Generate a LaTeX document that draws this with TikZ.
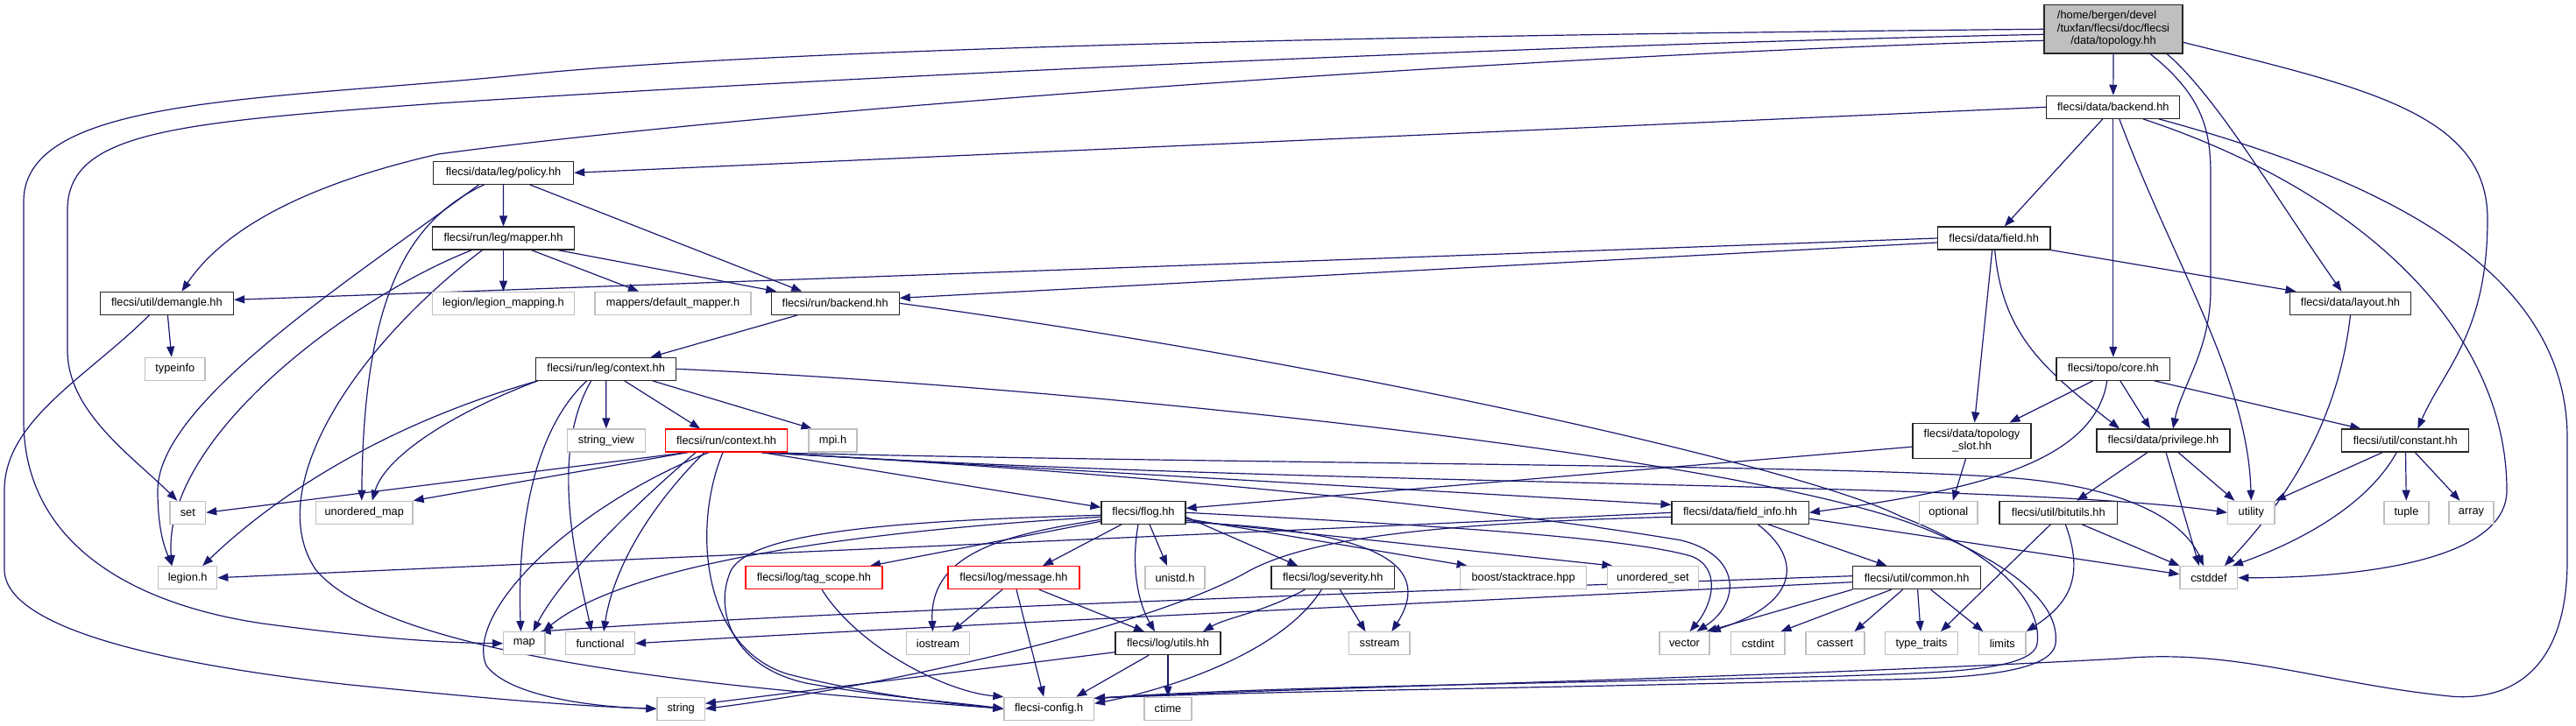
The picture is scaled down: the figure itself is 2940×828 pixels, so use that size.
\documentclass[tikz,border=0pt]{standalone}
\usepackage{fontspec}
\setmainfont{Liberation Sans}
\usetikzlibrary{arrows.meta,backgrounds}
\definecolor{edgec}{HTML}{191970}
\definecolor{greyb}{HTML}{BFBFBF}
\newcommand\gfs{\fontsize{12.8}{14.5}\selectfont}
\begin{document}
\begin{tikzpicture}[x=1pt,y=-1pt,
  nd/.style={rectangle, fill=white, inner sep=0pt, minimum height=26pt, font=\gfs, text=black},
  nb/.style={nd, draw=black!85, line width=1.1pt},
  ng/.style={nd, draw=greyb, line width=1.3pt},
  nr/.style={nd, draw=red, line width=1.1pt},
  dep/.style={draw=edgec, line width=1.2pt, -{Triangle[length=12pt,width=9pt]}}]
\useasboundingbox (0,0) rectangle (2940,828);
% ---------------- nodes
\node[nb, fill=greyb, minimum width=158pt, minimum height=55.3pt] (top) at (2412,33.3)
  {\begin{tabular}{@{}l@{}}/home/bergen/devel\\/tuxfan/flecsi/doc/flecsi\\\multicolumn{1}{@{}c@{}}{/data/topology.hh}\end{tabular}};
\node[nb, minimum width=152pt] (dbackend) at (2411.8,122.3) {flecsi/data/backend.hh};
\node[nb, minimum width=160pt] (policy) at (574.6,197.3) {flecsi/data/leg/policy.hh};
\node[nb, minimum width=162pt] (mapper) at (574.5,272) {flecsi/run/leg/mapper.hh};
\node[nb, minimum width=128.6pt] (field) at (2275.7,272) {flecsi/data/field.hh};
\node[nb, minimum width=152.4pt] (demangle) at (190.4,346.3) {flecsi/util/demangle.hh};
\node[ng, minimum width=162pt] (legmap) at (574.5,346.3) {legion/legion\_mapping.h};
\node[ng, minimum width=178pt] (defmap) at (768,346.3) {mappers/default\_mapper.h};
\node[nb, minimum width=146pt] (rbackend) at (953.2,346.3) {flecsi/run/backend.hh};
\node[nb, minimum width=137.7pt] (layout) at (2682.5,346.3) {flecsi/data/layout.hh};
\node[ng, minimum width=68.4pt] (typeinfo) at (199.8,421.3) {typeinfo};
\node[nb, minimum width=160pt] (legctx) at (691.7,421.3) {flecsi/run/leg/context.hh};
\node[nb, minimum width=129.6pt] (core) at (2411.8,421.3) {flecsi/topo/core.hh};
\node[ng, minimum width=88.7pt] (strview) at (691.9,503) {string\_view};
\node[nr, minimum width=139.2pt] (runctx) at (829.1,503) {flecsi/run/context.hh};
\node[ng, minimum width=55pt] (mpih) at (950.5,503) {mpi.h};
\node[nb, minimum width=135pt, minimum height=40.3pt, align=center] (topslot) at (2250.5,503.2) {flecsi/data/topology\\\_slot.hh};
\node[nb, minimum width=152pt] (privilege) at (2469,503) {flecsi/data/privilege.hh};
\node[nb, minimum width=145.2pt] (constant) at (2745.3,503) {flecsi/util/constant.hh};
\node[ng, minimum width=40.5pt] (set) at (214.3,585.3) {set};
\node[ng, minimum width=110.5pt] (umap) at (415.8,585.3) {unordered\_map};
\node[nb, minimum width=96pt] (flog) at (1305,585.3) {flecsi/flog.hh};
\node[nb, minimum width=156.4pt] (fieldinfo) at (1986.2,585.3) {flecsi/data/field\_info.hh};
\node[ng, minimum width=66.5pt] (optional) at (2223.8,585.3) {optional};
\node[nb, minimum width=134.6pt] (bitutils) at (2349.3,585.3) {flecsi/util/bitutils.hh};
\node[ng, minimum width=53.5pt] (utility) at (2569.3,585.3) {utility};
\node[ng, minimum width=51pt] (tuple) at (2746.5,585.3) {tuple};
\node[ng, minimum width=51pt] (array) at (2820.5,585.3) {array};
\node[ng, minimum width=67pt] (legionh) at (214.2,659.7) {legion.h};
\node[nr, minimum width=156pt] (tagscope) at (929,659.7) {flecsi/log/tag\_scope.hh};
\node[nr, minimum width=150pt] (message) at (1157,659.7) {flecsi/log/message.hh};
\node[ng, minimum width=68pt] (unistd) at (1341,659.7) {unistd.h};
\node[nb, minimum width=140.6pt] (severity) at (1521.3,659.7) {flecsi/log/severity.hh};
\node[ng, minimum width=144pt] (boost) at (1738.6,659.7) {boost/stacktrace.hpp};
\node[ng, minimum width=103.8pt] (uset) at (1886.5,659.7) {unordered\_set};
\node[nb, minimum width=146.2pt] (common) at (2187.6,659.7) {flecsi/util/common.hh};
\node[ng, minimum width=65.7pt] (cstddef) at (2520.9,659.7) {cstddef};
\node[ng, minimum width=47.2pt] (map) at (598.4,734.7) {map};
\node[ng, minimum width=78.8pt] (functional) at (685,734.7) {functional};
\node[ng, minimum width=71.7pt] (iostream) at (1070.5,734.7) {iostream};
\node[nb, minimum width=120pt] (utils) at (1333,734.7) {flecsi/log/utils.hh};
\node[ng, minimum width=69.3pt] (sstream) at (1574.4,734.7) {sstream};
\node[ng, minimum width=57pt] (vector) at (1922.5,734.7) {vector};
\node[ng, minimum width=61.3pt] (cstdint) at (2006.4,734.7) {cstdint};
\node[ng, minimum width=67pt] (cassert) at (2094.5,734.7) {cassert};
\node[ng, minimum width=83.1pt] (typetraits) at (2193,734.7) {type\_traits};
\node[ng, minimum width=53.4pt] (limits) at (2285.3,734.7) {limits};
\node[ng, minimum width=54.3pt] (string) at (777.2,809.3) {string};
\node[ng, minimum width=102.4pt] (config) at (1197.2,809.3) {flecsi-config.h};
\node[ng, minimum width=54pt] (ctime) at (1333,809.3) {ctime};
% ---------------- edges
\begin{scope}[on background layer]
\fill[white] (0,0) rectangle (2940,828);
% top
\draw[dep] (top) -- (dbackend);
\draw[dep] (top.west) .. controls (1600,40) and (900,55) .. (600,85) .. controls (300,115) and (27,110) .. (27,230) -- (27,480) .. controls (27,620) and (150,690) .. (300,712) .. controls (420,728) and (500,734) .. (map.west);
\draw[dep] ([yshift=-6]top.west) .. controls (1800,50) and (1000,85) .. (500,118) .. controls (200,140) and (77,150) .. (77,240) -- (77,400) .. controls (77,470) and (150,520) .. ([xshift=-12]set.north);
\draw[dep] ([yshift=-13]top.west) .. controls (1800,60) and (900,122) .. (500,176) .. controls (330,215) and (250,270) .. ([xshift=17]demangle.north);
\draw[dep] ([xshift=42]top.south) .. controls (2515,110) and (2523,150) .. (2523,200) -- (2523,330) .. controls (2523,400) and (2490,440) .. ([xshift=11]privilege.north);
\draw[dep] ([xshift=61]top.south) .. controls (2530,110) and (2600,230) .. ([xshift=-10]layout.north);
\draw[dep] ([yshift=-15]top.east) .. controls (2700,100) and (2839,130) .. (2839,250) .. controls (2839,380) and (2790,420) .. ([xshift=14]constant.north);
% data/backend
\draw[dep] (dbackend.west) -- (policy.east);
\draw[dep] ([xshift=-12]dbackend.south) -- ([xshift=12]field.north);
\draw[dep] (dbackend) -- (core);
\draw[dep] ([xshift=7]dbackend.south) .. controls (2480,300) and (2565,430) .. (utility.north);
\draw[dep] ([xshift=34]dbackend.south) .. controls (2700,220) and (2861,380) .. (2861,560) .. controls (2861,650) and (2650,660) .. (cstddef.east);
\draw[dep] ([xshift=52]dbackend.south) .. controls (2700,200) and (2930,300) .. (2930,500) -- (2930,640) .. controls (2930,780) and (2850,800) .. (2796,795) .. controls (2650,780) and (2550,740) .. (2420,752) .. controls (2000,775) and (1450,786) .. ([yshift=12]config.east);
% policy
\draw[dep] (policy) -- (mapper);
\draw[dep] ([xshift=30]policy.south) -- ([xshift=-38]rbackend.north);
\draw[dep] ([xshift=-28]policy.south) .. controls (400,320) and (180,460) .. (180,560) .. controls (180,610) and (190,630) .. ([xshift=-18]legionh.north);
\draw[dep] ([xshift=-22]policy.south) .. controls (470,250) and (415,330) .. ([xshift=-3]umap.north);
% mapper
\draw[dep] (mapper) -- (legmap);
\draw[dep] ([xshift=32]mapper.south) -- ([xshift=-39]defmap.north);
\draw[dep] ([xshift=62]mapper.south) -- ([xshift=-67]rbackend.north);
\draw[dep] ([xshift=-36]mapper.south) .. controls (400,340) and (185,500) .. ([xshift=-18]legionh.north);
\draw[dep] ([xshift=-24]mapper.south) .. controls (400,400) and (300,560) .. (360,650) .. controls (450,760) and (900,790) .. (config.west);
% run/backend
\draw[dep] ([xshift=-43]rbackend.south) -- ([xshift=51]legctx.north);
\draw[dep] (rbackend.east) .. controls (1500,410) and (2050,530) .. (2170,590) .. controls (2300,640) and (2330,700) .. (2325,735) .. controls (2320,768) and (2200,768) .. (2100,772) .. controls (1700,782) and (1450,784) .. ([yshift=12]config.east);
% run/leg/context
\draw[dep] ([xshift=21]legctx.south) -- ([xshift=-30]runctx.north);
\draw[dep] ([xshift=53]legctx.south) -- ([xshift=-24]mpih.north);
\draw[dep] (legctx) -- (strview);
\draw[dep] ([xshift=-22]legctx.south) .. controls (610,490) and (590,600) .. ([xshift=-4]map.north);
\draw[dep] ([xshift=-17]legctx.south) .. controls (625,520) and (660,650) .. ([xshift=-10]functional.north);
\draw[dep] ([xshift=-78]legctx.south) .. controls (420,490) and (300,580) .. ([xshift=17]legionh.north);
\draw[dep] ([xshift=-78]legctx.south) .. controls (520,470) and (440,520) .. ([xshift=9]umap.north);
\draw[dep] (legctx.east) .. controls (1200,440) and (2000,520) .. (2200,605) .. controls (2320,655) and (2350,700) .. (2346,735) .. controls (2340,776) and (2200,775) .. (2100,777) .. controls (1700,787) and (1450,789) .. ([yshift=12]config.east);
% run/context
\draw[dep] ([xshift=-44]runctx.south) -- (set.east);
\draw[dep] ([xshift=-44]runctx.south) -- (umap.north east);
\draw[dep] ([xshift=-35]runctx.south) .. controls (720,580) and (640,660) .. ([xshift=10]map.north);
\draw[dep] ([xshift=-25]runctx.south) .. controls (740,580) and (700,650) .. ([xshift=4]functional.north);
\draw[dep] ([xshift=-20]runctx.south) .. controls (650,580) and (530,700) .. (555,760) .. controls (585,800) and (700,808) .. (string.west);
\draw[dep] ([xshift=-4]runctx.south) .. controls (790,600) and (800,740) .. (900,770) .. controls (1000,795) and (1100,805) .. (config.west);
\draw[dep] ([xshift=40]runctx.south) -- ([yshift=6]flog.west);
\draw[dep] ([xshift=40]runctx.south) -- ([yshift=9]fieldinfo.west);
\draw[dep] ([xshift=40]runctx.south) .. controls (1400,530) and (2100,530) .. (2300,546) .. controls (2440,558) and (2495,600) .. ([xshift=-6]cstddef.north);
\draw[dep] ([xshift=40]runctx.south) .. controls (1500,556) and (2300,550) .. (utility.west);
\draw[dep] ([xshift=40]runctx.south) .. controls (1300,540) and (1700,580) .. (1919,617) .. controls (1990,635) and (1985,690) .. ([xshift=14]vector.north);
% flog
\draw[dep] ([yshift=-10]flog.west) -- ([xshift=64]tagscope.north);
\draw[dep] ([xshift=-25]flog.south) -- ([xshift=33]message.north);
\draw[dep] ([xshift=7]flog.south) -- ([xshift=-9]unistd.north);
\draw[dep] ([yshift=-8]flog.west) .. controls (1150,610) and (1060,630) .. ([xshift=-6]iostream.north);
\draw[dep] ([xshift=-6]flog.south) .. controls (1290,650) and (1300,690) .. ([xshift=-15]utils.north);
\draw[dep] ([yshift=-3]flog.west) .. controls (1000,595) and (860,610) .. (835,650) .. controls (815,690) and (830,760) .. (920,780) .. controls (1000,795) and (1100,803) .. (config.west);
\draw[dep] ([yshift=-5]flog.west) .. controls (1000,605) and (720,640) .. ([xshift=-3]map.north east);
\draw[dep] ([yshift=-5]flog.east) -- ([xshift=-40]severity.north);
\draw[dep] ([yshift=-7]flog.east) -- ([xshift=-64]boost.north);
\draw[dep] ([yshift=-9]flog.east) -- ([xshift=-46]uset.north);
\draw[dep] ([yshift=-11]flog.east) .. controls (1560,605) and (1640,640) .. ([xshift=14]sstream.north);
\draw[dep] (flog.east) .. controls (1600,598) and (1850,612) .. (1930,635) .. controls (1965,648) and (1955,690) .. ([xshift=6]vector.north);
% field_info
\draw[dep] (fieldinfo.west) .. controls (1500,605) and (800,635) .. (legionh.east);
\draw[dep] ([yshift=-5]fieldinfo.west) .. controls (1600,598) and (1480,620) .. (1420,655) .. controls (1300,720) and (1000,785) .. (string.east);
\draw[dep] ([xshift=20]fieldinfo.south) .. controls (2060,640) and (2050,690) .. (vector.north east);
\draw[dep] ([yshift=-7]fieldinfo.east) -- ([yshift=4]cstddef.west);
\draw[dep] ([xshift=32]fieldinfo.south) -- ([xshift=-34]common.north);
% topo/core
\draw[dep] ([xshift=-23]core.south) -- ([xshift=43]topslot.north);
\draw[dep] ([xshift=8]core.south) -- ([xshift=-15]privilege.north);
\draw[dep] ([xshift=47]core.south) -- ([xshift=-51]constant.north);
\draw[dep] ([xshift=-7]core.south) .. controls (2390,530) and (2250,560) .. (fieldinfo.east);
% data/field
\draw[dep] ([xshift=-2]field.south) -- ([xshift=3]topslot.north);
\draw[dep] ([xshift=1]field.south) .. controls (2285,380) and (2330,420) .. ([xshift=-50]privilege.north);
\draw[dep] (field.south east) -- ([xshift=-62]layout.north);
\draw[dep] (field.west) -- ([yshift=4]demangle.east);
\draw[dep] ([yshift=-5]field.west) -- ([yshift=6]rbackend.east);
% topology_slot
\draw[dep] ([xshift=-7]topslot.south) -- ([xshift=5]optional.north);
\draw[dep] ([yshift=-7]topslot.west) -- ([yshift=5]flog.east);
% layout
\draw[dep] (layout.south) .. controls (2670,470) and (2620,560) .. ([xshift=18]cstddef.north);
% privilege
\draw[dep] ([xshift=-18]privilege.south) -- ([xshift=21]bitutils.north);
\draw[dep] ([xshift=3]privilege.south) -- ([xshift=-11]cstddef.north);
\draw[dep] ([xshift=17]privilege.south) -- ([xshift=-19]utility.north);
% constant
\draw[dep] ([xshift=-26]constant.south) -- (utility.north east);
\draw[dep] ([xshift=-10]constant.south) .. controls (2700,580) and (2620,620) .. ([xshift=27]cstddef.north);
\draw[dep] (constant) -- (tuple);
\draw[dep] ([xshift=11]constant.south) -- ([xshift=-13]array.north);
% bitutils
\draw[dep] ([xshift=-9]bitutils.south) -- ([xshift=22]typetraits.north);
\draw[dep] ([xshift=8]bitutils.south) .. controls (2380,660) and (2360,690) .. (limits.north east);
\draw[dep] ([xshift=27]bitutils.south) -- (cstddef.north west);
% common
\draw[dep] (common) -- (typetraits);
\draw[dep] ([xshift=16]common.south) -- ([xshift=-22]limits.north);
\draw[dep] ([xshift=-16]common.south) -- ([xshift=22]cassert.north);
\draw[dep] ([xshift=-29]common.south) -- ([xshift=26]cstdint.north);
\draw[dep] (common.south west) -- ([xshift=-4]vector.north east);
\draw[dep] ([yshift=-5]common.west) .. controls (1600,690) and (1000,718) .. (functional.east);
\draw[dep] ([yshift=2]common.west) .. controls (1600,675) and (900,700) .. ([xshift=-6]map.north east);
% message
\draw[dep] ([xshift=-13]message.south) -- ([xshift=16]iostream.north);
\draw[dep] ([xshift=3]message.south) -- ([xshift=-6]config.north);
\draw[dep] ([xshift=29]message.south) -- ([xshift=-27]utils.north);
% tag_scope
\draw[dep] ([xshift=9]tagscope.south) .. controls (980,740) and (1080,790) .. (config.north west);
% utils
\draw[dep] ([yshift=-10]utils.west) -- ([yshift=6]string.east);
\draw[dep] ([xshift=-22]utils.south) -- ([xshift=31]config.north);
\draw[dep] (utils) -- (ctime);
% severity
\draw[dep] ([xshift=8]severity.south) -- ([xshift=-16]sstream.north);
\draw[dep] ([xshift=-32]severity.south) .. controls (1440,700) and (1400,705) .. ([xshift=40]utils.north);
\draw[dep] ([xshift=-13]severity.south) .. controls (1460,750) and (1320,790) .. ([yshift=6]config.east);
% demangle
\draw[dep] ([xshift=1]demangle.south) -- ([xshift=-4]typeinfo.north);
\draw[dep] ([xshift=-20]demangle.south) .. controls (100,430) and (5,480) .. (5,560) -- (5,650) .. controls (5,720) and (200,760) .. (400,782) .. controls (550,797) and (650,806) .. (string.west);
\end{scope}
\end{tikzpicture}
\end{document}
